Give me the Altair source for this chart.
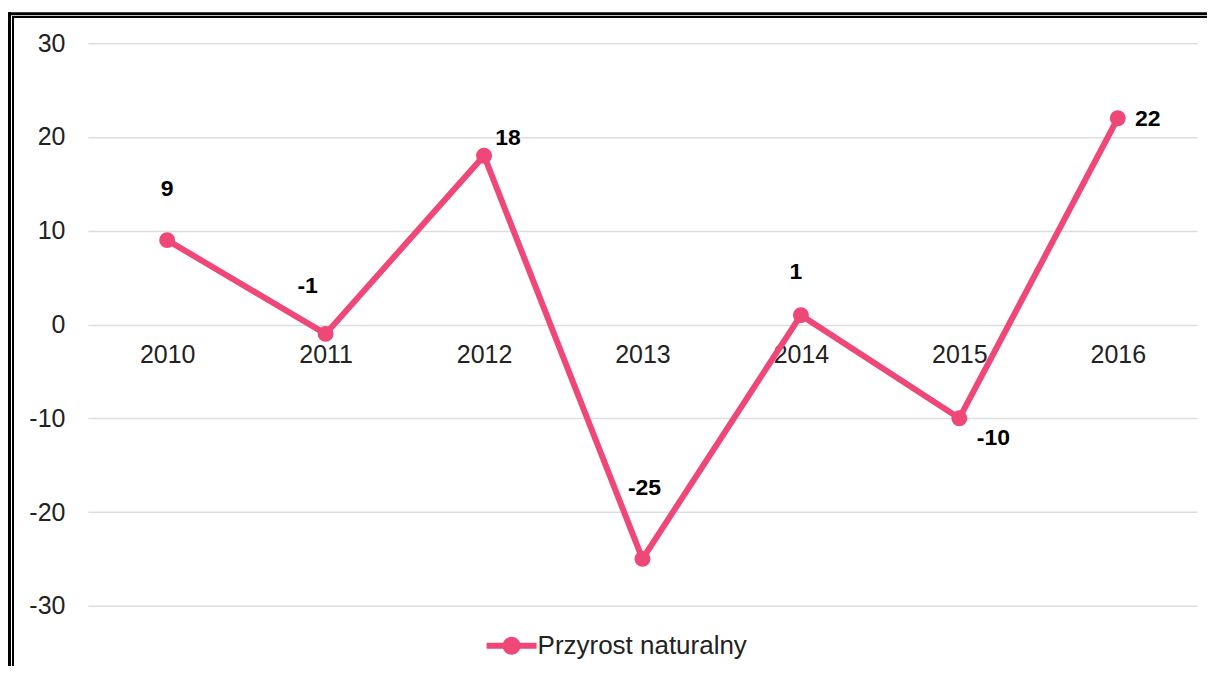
import altair as alt
import pandas as pd

years = ["2010", "2011", "2012", "2013", "2014", "2015", "2016"]
values = [9, -1, 18, -25, 1, -10, 22]
series_name = "Przyrost naturalny"
y_ticks = [-30, -20, -10, 0, 10, 20, 30]

# annotation placement (style only): dx, dy per year
label_offsets = {
    "2010": (0, -51), "2011": (-18, -48), "2012": (24, -18), "2013": (2, -71),
    "2014": (-5, -43), "2015": (34, 20), "2016": (30, 1),
}

PINK = "#EF4778"
FONT = "Liberation Sans"

df = pd.DataFrame({"year": years, "value": values, "series": [series_name] * len(years)})
df["label"] = df["value"].astype(str)

W, H = 1110, 563

x_enc = alt.X("year:O", scale=alt.Scale(type="point", padding=0.5),
              axis=alt.Axis(title=None, labelAngle=0, domain=False, ticks=False, grid=False,
                            offset=-H / 2, labelPadding=18, labelFontSize=25,
                            labelColor="#222222", labelFont=FONT))
y_enc = alt.Y("value:Q", scale=alt.Scale(domain=[-30, 30], nice=False, zero=False),
              axis=alt.Axis(title=None, values=y_ticks, domain=False, ticks=False,
                            gridColor="#dddddd", gridWidth=1.5, labelPadding=23,
                            labelExpr="'' + datum.value",
                            labelFontSize=25, labelColor="#222222", labelFont=FONT))

base = alt.Chart(df)

line = base.mark_line(color=PINK, strokeWidth=6).encode(x=x_enc, y=y_enc)

legend_symbol = ("M-1,-0.12L1,-0.12L1,0.12L-1,0.12Z"
                 "M-0.36,0A0.36,0.36 0 1,1 0.36,0A0.36,0.36 0 1,1 -0.36,0Z")

points = base.mark_point(filled=True, size=254, opacity=1).encode(
    x=x_enc, y=y_enc,
    color=alt.Color("series:N", scale=alt.Scale(range=[PINK]),
                    legend=alt.Legend(orient="none", legendX=399, legendY=578, title=None,
                                      symbolType=legend_symbol, symbolSize=2500,
                                      symbolStrokeWidth=0, labelFontSize=26,
                                      labelColor="#222222", labelFont=FONT,
                                      labelLimit=500, padding=0, labelOffset=1)),
)

texts = []
for yr, (dx, dy) in label_offsets.items():
    t = base.transform_filter(alt.datum.year == yr).mark_text(
        fontSize=23, fontWeight="bold", color="#000000", font=FONT,
        dx=dx, dy=dy, baseline="middle", align="center"
    ).encode(x=x_enc, y=y_enc, text="label:N")
    texts.append(t)

dummy = alt.Data(values=[{"a": 1}])
frame = [
    alt.Chart(dummy).mark_rule(color="black", strokeWidth=3).encode(
        x=alt.value(-78.5), y=alt.value(-31), y2=alt.value(700)),
    alt.Chart(dummy).mark_rule(color="black", strokeWidth=3).encode(
        x=alt.value(-80), x2=alt.value(1300), y=alt.value(-29.5)),
    alt.Chart(dummy).mark_rule(color="black", strokeWidth=2).encode(
        x=alt.value(-75), y=alt.value(-27.3), y2=alt.value(700)),
    alt.Chart(dummy).mark_rule(color="black", strokeWidth=2).encode(
        x=alt.value(-76), x2=alt.value(1300), y=alt.value(-26.3)),
]

chart = alt.layer(*frame, line, points, *texts).properties(
    width=W, height=H,
    background="white",
    autosize=alt.AutoSizeParams(type="none"),
    padding={"left": 80, "top": 35, "right": 10, "bottom": 60},
).configure_view(stroke=None, strokeWidth=0)

chart.save("out.html", embed_options={"renderer": "svg", "actions": False})
